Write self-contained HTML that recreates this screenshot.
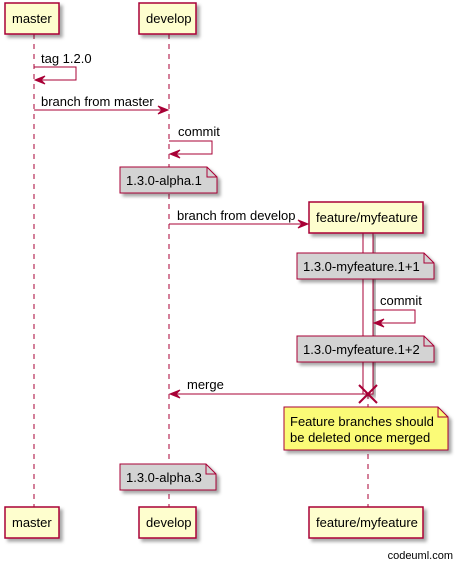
<!DOCTYPE html>
<html><head><meta charset="utf-8"><style>
html,body{margin:0;padding:0;background:#fff;}
svg{display:block;}
text{font-family:"Liberation Sans",sans-serif;font-size:13px;fill:#000;}
</style></head><body>
<svg width="457" height="564" viewBox="0 0 457 564" xmlns="http://www.w3.org/2000/svg">
<defs>
<filter id="sh" x="-20%" y="-20%" width="150%" height="150%"><feDropShadow dx="3" dy="3" stdDeviation="1.5" flood-color="#000" flood-opacity="0.35"/></filter>
</defs>
<g stroke="#A80036" stroke-width="1" stroke-dasharray="5,5">
<line x1="34" y1="34" x2="34" y2="507"/>
<line x1="169" y1="34" x2="169" y2="507"/>
<line x1="368" y1="394" x2="368" y2="507"/>
</g>
<rect x="363" y="233" width="10" height="161" fill="#fff" stroke="#A80036" filter="url(#sh)"/>
<g fill="#FEFECE" stroke="#A80036" stroke-width="1.5" filter="url(#sh)">
<rect x="5" y="3" width="54" height="31"/>
<rect x="139" y="3" width="57" height="31"/>
<rect x="5" y="507" width="54" height="31"/>
<rect x="139" y="507" width="57" height="31"/>
<rect x="309" y="202" width="114" height="31"/>
<rect x="309" y="507" width="114" height="31"/>
</g>
<text x="12" y="23">master</text>
<text x="146" y="23">develop</text>
<text x="12" y="527">master</text>
<text x="146" y="527">develop</text>
<text x="316" y="222">feature/myfeature</text>
<text x="316" y="527">feature/myfeature</text>
<g stroke="#A80036" stroke-width="1" fill="none">
<polyline points="34,67 76,67 76,80 35,80"/>
<line x1="34" y1="110" x2="167" y2="110"/>
<polyline points="169,141 212,141 212,154 170,154"/>
<line x1="169" y1="224" x2="307" y2="224"/>
<polyline points="373,310 415,310 415,323 374,323"/>
<line x1="171" y1="394" x2="368" y2="394"/>
</g>
<g fill="#A80036" stroke="#A80036">
<polygon points="35,80 45,76 41,80 45,84"/>
<polygon points="168,110 158,106 162,110 158,114"/>
<polygon points="170,154 180,150 176,154 180,158"/>
<polygon points="308,224 298,220 302,224 298,228"/>
<polygon points="374,323 384,319 380,323 384,327"/>
<polygon points="170,394 180,390 176,394 180,398"/>
</g>
<g stroke="#A80036" stroke-width="2">
<line x1="359" y1="385" x2="377" y2="403"/>
<line x1="377" y1="385" x2="359" y2="403"/>
</g>
<text x="41" y="63">tag 1.2.0</text>
<text x="41" y="106">branch from master</text>
<text x="178" y="136">commit</text>
<text x="177" y="220">branch from develop</text>
<text x="380" y="305">commit</text>
<text x="187" y="389">merge</text>
<g stroke="#A80036" stroke-width="1" filter="url(#sh)">
<path d="M120,167 H207 L217,177 V193 H120 Z" fill="#D3D3D3"/>
<path d="M297,253 H424 L434,263 V279 H297 Z" fill="#D3D3D3"/>
<path d="M297,336 H424 L434,346 V362 H297 Z" fill="#D3D3D3"/>
<path d="M284,407 H438 L448,417 V450 H284 Z" fill="#FBFB77"/>
<path d="M120,464 H206 L216,474 V490 H120 Z" fill="#D3D3D3"/>
</g>
<g stroke="#A80036" stroke-width="1" fill="none">
<path d="M207,167 V177 H217"/>
<path d="M424,253 V263 H434"/>
<path d="M424,336 V346 H434"/>
<path d="M438,407 V417 H448"/>
<path d="M206,464 V474 H216"/>
</g>
<text x="126" y="185">1.3.0-alpha.1</text>
<text x="303" y="271">1.3.0-myfeature.1+1</text>
<text x="303" y="354">1.3.0-myfeature.1+2</text>
<text x="290" y="426">Feature branches should</text>
<text x="290" y="442">be deleted once merged</text>
<text x="126" y="482">1.3.0-alpha.3</text>
<text x="453" y="559" text-anchor="end" style="font-size:11px">codeuml.com</text>
</svg>
</body></html>
